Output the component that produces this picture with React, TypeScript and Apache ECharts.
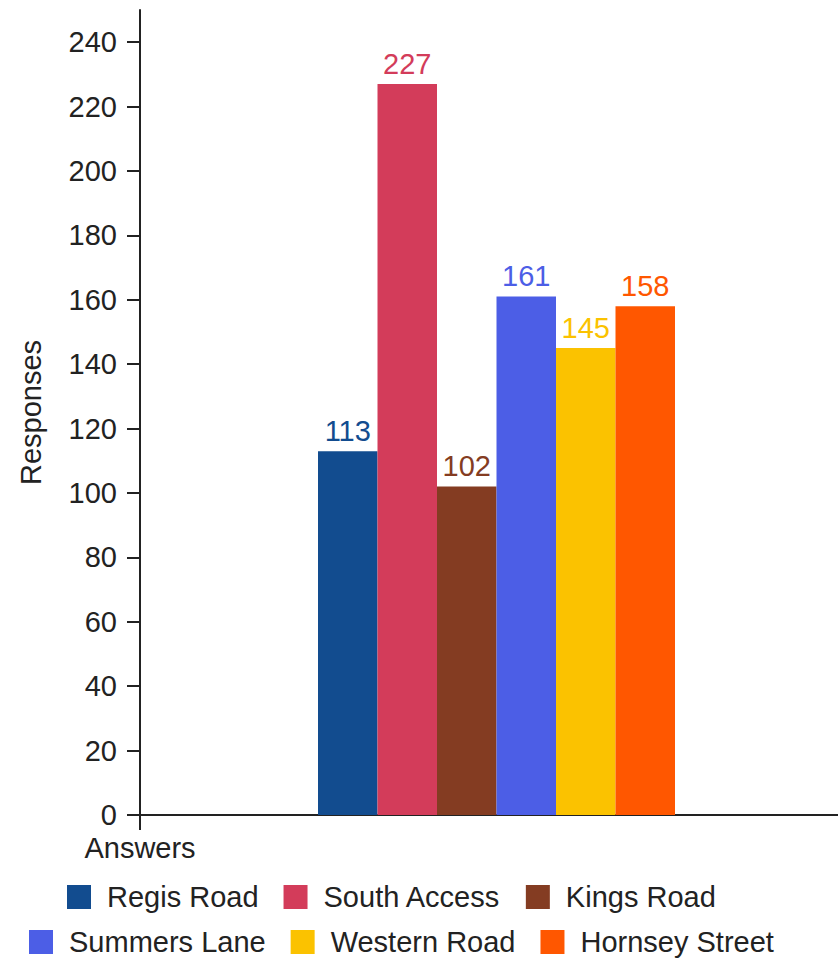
import React, { useEffect, useRef } from "react";
import * as echarts from "echarts";

const categories = ["Answers"];
const seriesNames = ["Regis Road", "South Access", "Kings Road", "Summers Lane", "Western Road", "Hornsey Street"];
const values = [113, 227, 102, 161, 145, 158];
const colors = ["#124c8f", "#d33c5a", "#843c22", "#4c5ee6", "#fbc200", "#ff5700"];
const legendRow1 = ["Regis Road", "South Access", "Kings Road"];
const legendRow2 = ["Summers Lane", "Western Road", "Hornsey Street"];

const FONT = "'Liberation Sans', Arial, sans-serif";

export default function App() {
  const ref = useRef<HTMLDivElement>(null);
  useEffect(() => {
    const chart = echarts.init(ref.current!, null, { renderer: "svg" });
    const legendBase = {
      itemWidth: 24,
      itemHeight: 24,
      itemGap: 25,
      icon: "rect",
      textStyle: { fontFamily: FONT, fontSize: 29, color: "#222", padding: [0, 0, 0, 11], lineHeight: 30 },
      selectedMode: false,
    };
    chart.setOption({
      animation: false,
      textStyle: { fontFamily: FONT },
      grid: { left: 140, top: 10, height: 805, width: 713, containLabel: false, outerBoundsMode: "none" },
      legend: [
        { ...legendBase, data: legendRow1, left: 62, top: 877 },
        { ...legendBase, data: legendRow2, left: 24, top: 922 },
      ],
      xAxis: {
        type: "category",
        data: categories,
        boundaryGap: true,
        name: "Answers",
        nameLocation: "start",
        nameGap: 0,
        nameTextStyle: { fontFamily: FONT, fontSize: 29, color: "#222", align: "center", verticalAlign: "top", padding: [18, 0, 0, 0] },
        axisLine: { lineStyle: { color: "#222", width: 2 } },
        axisTick: { show: true, length: 15, lineStyle: { color: "#222", width: 2 } },
        axisLabel: { show: false },
      },
      yAxis: {
        type: "value",
        min: 0,
        max: 250,
        interval: 20,
        name: "Responses",
        nameLocation: "middle",
        nameGap: 95,
        nameTextStyle: { fontFamily: FONT, fontSize: 29, color: "#222" },
        axisLine: { show: true, lineStyle: { color: "#222", width: 2 } },
        axisTick: { show: true, length: 13, lineStyle: { color: "#222", width: 2 } },
        axisLabel: { fontFamily: FONT, fontSize: 29, color: "#222", margin: 23, showMaxLabel: false },
        splitLine: { show: false },
      },
      series: seriesNames.map((name, i) => ({
        name,
        type: "bar",
        data: [values[i]],
        barWidth: 59.5,
        barGap: "0%",
        itemStyle: { color: colors[i] },
        label: {
          show: true,
          position: "top",
          distance: 6,
          color: colors[i],
          fontFamily: FONT,
          fontSize: 29,
        },
      })),
    });
    return () => chart.dispose();
  }, []);
  return <div ref={ref} style={{ width: 838, height: 962, position: "absolute", left: 0, top: 0 }} />;
}
